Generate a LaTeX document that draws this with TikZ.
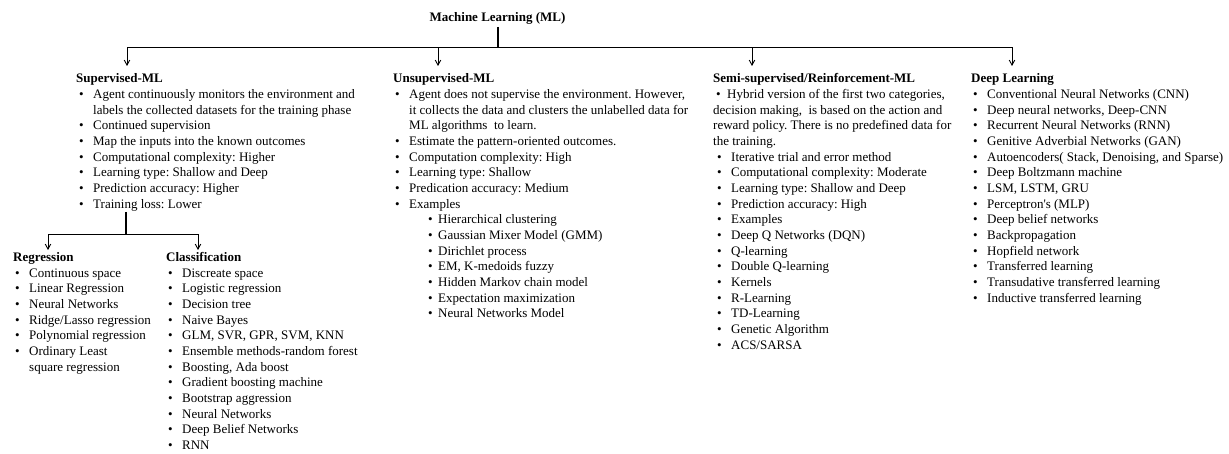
\documentclass[tikz,border=0pt]{standalone}
\usepackage{fontspec}
\setmainfont{Liberation Serif}
\usetikzlibrary{arrows.meta}
\frenchspacing
\newcommand\bul[1]{\makebox[14pt][l]{\textbullet}#1}
\newcommand\sbul[1]{\hspace*{33pt}\makebox[10pt][l]{\textbullet}#1}
\newcommand\cont[1]{\hspace*{14pt}#1}
\begin{document}
\begin{tikzpicture}[x=1pt,y=-1pt,
  txt/.style={anchor=base west,inner sep=0pt,font=\fontsize{13}{15.65}\selectfont\frenchspacing},
  head/.style={anchor=base west,inner sep=0pt,font=\fontsize{13}{15.65}\selectfont\bfseries},
  link/.style={draw=black,line width=0.9pt},
  stub/.style={draw=black,line width=1.8pt},
  arr/.style={link,-{Straight Barb[length=5pt,width=5.5pt]}}]
\useasboundingbox (0,0) rectangle (1229,454);

% title and top connectors
\node[head,anchor=base] (ml) at (497.5,21.5) {Machine Learning (ML)};
\coordinate (mltop) at (498,27);
\coordinate (bar) at (498,47.7);
\coordinate (tsup) at (127,66);
\coordinate (tuns) at (438,66);
\coordinate (tsemi) at (752,66);
\coordinate (tdeep) at (1012,66);
\draw[arr] (bar) -| (tsup);
\draw[arr] (bar) -| (tuns);
\draw[arr] (bar) -| (tsemi);
\draw[arr] (bar) -| (tdeep);
\draw[stub] (mltop) -- (bar);

% Supervised
\node[head] (sup) at (76,83) {Supervised-ML};
\foreach \t [count=\i] in {
  \bul{Agent continuously monitors the environment and},
  \cont{labels the collected datasets for the training phase},
  \bul{Continued supervision},
  \bul{Map the inputs into the known outcomes},
  \bul{Computational complexity: Higher},
  \bul{Learning type: Shallow and Deep},
  \bul{Prediction accuracy: Higher},
  \bul{Training loss: Lower}}
  \node[txt] (sup-\i) at (79,83+15.65*\i) {\t};

% Unsupervised
\node[head] (uns) at (393,83) {Unsupervised-ML};
\foreach \t [count=\i] in {
  \bul{Agent does not supervise the environment. However,},
  \cont{it collects the data and clusters the unlabelled data for},
  \cont{ML algorithms\ \ to learn.},
  \bul{Estimate the pattern-oriented outcomes.},
  \bul{Computation complexity: High},
  \bul{Learning type: Shallow},
  \bul{Predication accuracy: Medium},
  \bul{Examples},
  \sbul{Hierarchical clustering},
  \sbul{Gaussian Mixer Model (GMM)},
  \sbul{Dirichlet process},
  \sbul{{EM, K-medoids fuzzy}},
  \sbul{Hidden Markov chain model},
  \sbul{Expectation maximization},
  \sbul{Neural Networks Model}}
  \node[txt] (uns-\i) at (395,83+15.65*\i) {\t};

% Semi-supervised / Reinforcement
\node[head] (semi) at (713,83) {Semi-supervised/Reinforcement-ML};
\node[txt] (semi-1) at (716,83+15.65) {\makebox[11pt][l]{\textbullet}Hybrid version of the first two categories,};
\node[txt] (semi-2) at (713,83+15.65*2) {decision making,\ \ is based on the action and};
\node[txt] (semi-3) at (713,83+15.65*3) {reward policy. There is no predefined data for};
\node[txt] (semi-4) at (713,83+15.65*4) {the training.};
\foreach \t [count=\i from 5] in {
  \bul{Iterative trial and error method},
  \bul{Computational complexity: Moderate},
  \bul{Learning type: Shallow and Deep},
  \bul{Prediction accuracy: High},
  \bul{Examples},
  \bul{Deep Q Networks (DQN)},
  \bul{Q-learning},
  \bul{Double Q-learning},
  \bul{Kernels},
  \bul{R-Learning},
  \bul{TD-Learning},
  \bul{Genetic Algorithm},
  \bul{ACS/SARSA}}
  \node[txt] (semi-\i) at (717,83+15.65*\i) {\t};

% Deep learning
\node[head] (deep) at (971,83) {Deep Learning};
\foreach \t [count=\i] in {
  \bul{Conventional Neural Networks (CNN)},
  \bul{{Deep neural networks, Deep-CNN}},
  \bul{Recurrent Neural Networks (RNN)},
  \bul{Genitive Adverbial Networks (GAN)},
  \bul{{Autoencoders( Stack, Denoising, and Sparse)}},
  \bul{Deep Boltzmann machine},
  \bul{{LSM, LSTM, GRU}},
  \bul{Perceptron\textquotesingle s (MLP)},
  \bul{Deep belief networks},
  \bul{Backpropagation},
  \bul{Hopfield network},
  \bul{Transferred learning},
  \bul{Transudative transferred learning},
  \bul{Inductive transferred learning}}
  \node[txt] (deep-\i) at (973,83+15.65*\i) {\t};

% Supervised branch
\coordinate (sfoot) at (126,212);
\coordinate (sbar) at (126,234);
\coordinate (treg) at (48,250);
\coordinate (tcls) at (198,250);
\draw[arr] (sbar) -| (treg);
\draw[arr] (sbar) -| (tcls);
\draw[stub] (sfoot) -- (sbar);

% Regression
\node[head] (reg) at (13,261.5) {Regression};
\foreach \t [count=\i] in {
  \bul{Continuous space},
  \bul{Linear Regression},
  \bul{Neural Networks},
  \bul{Ridge/Lasso regression},
  \bul{Polynomial regression},
  \bul{Ordinary Least},
  \cont{square regression}}
  \node[txt] (reg-\i) at (15,261.5+15.65*\i) {\t};

% Classification
\node[head] (cls) at (166,261.5) {Classification};
\foreach \t [count=\i] in {
  \bul{Discreate space},
  \bul{Logistic regression},
  \bul{Decision tree},
  \bul{Naive Bayes},
  \bul{{GLM, SVR, GPR, SVM, KNN}},
  \bul{Ensemble methods-random forest},
  \bul{{Boosting, Ada boost}},
  \bul{Gradient boosting machine},
  \bul{Bootstrap aggression},
  \bul{Neural Networks},
  \bul{Deep Belief Networks},
  \bul{RNN}}
  \node[txt] (cls-\i) at (168,261.5+15.65*\i) {\t};
\end{tikzpicture}
\end{document}
